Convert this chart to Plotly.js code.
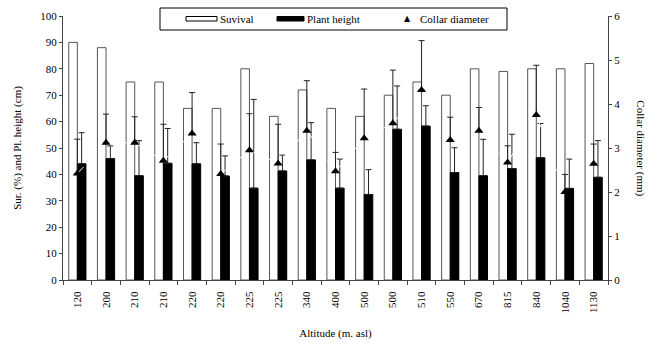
<!DOCTYPE html>
<html>
<head>
<meta charset="utf-8">
<script src="https://cdn.plot.ly/plotly-3.0.1.min.js"></script>
<style>html,body{margin:0;padding:0;background:#fff;}#chart{width:653px;height:347px;}</style>
</head>
<body>
<div id="chart"></div>
<script>
const altitude = ['120','200','210','210','220','220','225','225','340','400','500','500','510','550','670','815','840','1040','1130'];
const survival = [90,88,75,75,65,65,80,62,72,65,62,70,75,70,80,79,80,80,82];
const plantHeight = [44,46,39.5,44.2,44,39.4,34.8,41.3,45.5,34.8,32.4,57.1,58.3,40.7,39.5,42.2,46.3,34.7,38.9];
const plantHeightErr = [11.8,4.8,13.3,13.2,8,7.6,33.6,6,14.1,11,9.4,16.4,7.7,9.4,13.8,13,13,11.1,13.9];
const collar = [2.42,3.12,3.12,2.71,3.33,2.41,2.95,2.65,3.39,2.47,3.22,3.56,4.32,3.18,3.39,2.67,3.75,2.0,2.64];
const collarErr = [0.78,0.65,0.59,0.83,0.93,0.68,0.83,0.89,1.14,0.43,1.12,1.21,1.12,0.52,0.53,0.38,1.13,0.4,0.45];
const seriesNames = ['Suvival', 'Plant height', 'Collar diameter'];

const idx = altitude.map((_, i) => i);
const zeros = altitude.map(() => 0);
const FONT = '"Liberation Serif", "Times New Roman", serif';

const traces = [
  {
    type: 'bar', name: seriesNames[0], x: idx, y: survival,
    marker: {color: '#ffffff', line: {color: '#555555', width: 1}}
  },
  {
    type: 'bar', name: seriesNames[1], x: idx, y: plantHeight,
    marker: {color: '#000000', line: {color: '#000000', width: 1}},
    error_y: {type: 'data', array: plantHeightErr, arrayminus: zeros, symmetric: false,
              color: '#222222', thickness: 1, width: 3}
  },
  {
    type: 'scatter', mode: 'lines+markers', name: seriesNames[2], x: idx, y: collar, yaxis: 'y2',
    line: {color: '#ffffff', width: 1, dash: 'dash'},
    marker: {symbol: 'triangle-up', size: 8, color: '#000000'},
    error_y: {type: 'data', array: collarErr, arrayminus: zeros, symmetric: false,
              color: '#222222', thickness: 1, width: 3}
  }
];

// legend drawn as a framed key (paper coordinates)
const px = p => (p - 63) / 545;
const py = p => (280 - p) / 264;
const shapes = [
  {type: 'rect', xref: 'paper', yref: 'paper', x0: px(160), x1: px(507), y0: py(30), y1: py(8),
   line: {color: '#000000', width: 1}, fillcolor: '#ffffff', layer: 'above'},
  {type: 'rect', xref: 'paper', yref: 'paper', x0: px(186), x1: px(217), y0: py(21), y1: py(16.5),
   line: {color: '#000000', width: 1}, fillcolor: '#ffffff', layer: 'above'},
  {type: 'rect', xref: 'paper', yref: 'paper', x0: px(277), x1: px(304), y0: py(21), y1: py(16.5),
   line: {color: '#000000', width: 1}, fillcolor: '#000000', layer: 'above'}
];
const legendText = (t, x) => ({text: t, xref: 'paper', yref: 'paper', x: px(x), y: py(19),
  xanchor: 'left', yanchor: 'middle', showarrow: false, font: {family: FONT, size: 11, color: '#000000'}});

const layout = {
  width: 653, height: 347,
  margin: {l: 63, r: 45, t: 16, b: 67},
  paper_bgcolor: '#ffffff', plot_bgcolor: '#ffffff',
  font: {family: FONT, size: 11, color: '#000000'},
  barmode: 'group', bargap: 0.4, bargroupgap: 0,
  showlegend: false,
  xaxis: {
    range: [-0.5, altitude.length - 0.5],
    tickmode: 'array', tickvals: idx, ticktext: altitude, tickangle: -90,
    ticks: '', showgrid: false, zeroline: false,
    showline: true, linecolor: '#444444', linewidth: 1,
    minor: {tick0: 0.5, dtick: 1, ticks: 'outside', ticklen: 4, tickcolor: '#444444', showgrid: false},
    ticklabelstandoff: 6,
    tickfont: {family: FONT, size: 11},
    title: {text: 'Altitude (m. asl)', font: {family: FONT, size: 11}, standoff: 16}
  },
  yaxis: {
    range: [0, 100], dtick: 10, ticks: 'outside', ticklen: 3, tickcolor: '#444444',
    showgrid: false, zeroline: false, showline: true, linecolor: '#444444', linewidth: 1,
    tickfont: {family: FONT, size: 11},
    title: {text: 'Sur. (%) and Pl. height (cm)', font: {family: FONT, size: 11}, standoff: 16}
  },
  yaxis2: {
    range: [0, 6], dtick: 1, overlaying: 'y', side: 'right', anchor: 'x',
    ticks: 'outside', ticklen: 3, tickcolor: '#444444',
    showgrid: false, zeroline: false, showline: true, linecolor: '#444444', linewidth: 1,
    tickfont: {family: FONT, size: 11}
  },
  shapes: shapes,
  annotations: [
    {text: 'Collar diameter (mm)', xref: 'paper', yref: 'paper', x: 1.06, y: 0.5,
     xanchor: 'center', yanchor: 'middle', textangle: 90, showarrow: false,
     font: {family: FONT, size: 11, color: '#000000'}},
    legendText(seriesNames[0], 218),
    legendText(seriesNames[1], 305),
    legendText(seriesNames[2], 418),
    {text: '▲', xref: 'paper', yref: 'paper', x: px(407), y: py(19), xanchor: 'center', yanchor: 'middle',
     showarrow: false, font: {family: 'DejaVu Sans', size: 8, color: '#000000'}}
  ]
};

Plotly.newPlot('chart', traces, layout, {displayModeBar: false, staticPlot: true});
</script>
</body>
</html>
